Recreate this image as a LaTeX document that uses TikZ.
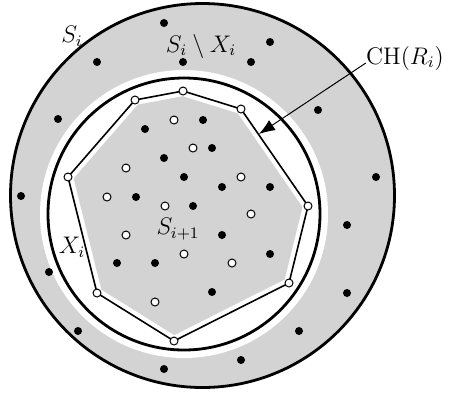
\documentclass[tikz,border=0pt]{standalone}
\usepackage{amsmath,amssymb}
\usetikzlibrary{arrows.meta}
\definecolor{ringgray}{RGB}{211,211,211}

\begin{document}
\begin{tikzpicture}[
  x=0.5pt,y=-0.5pt,
  font=\large,
  >={Latex[length=8pt,width=6pt]},
  blackpt/.style={fill=black},
  whitept/.style={draw=black,fill=white,line width=0.5pt},
  rim/.style={draw=black,line width=1.4pt},
  hullline/.style={draw=black,line width=0.8pt},
  gap/.style={draw=white,line width=#1}
]
\useasboundingbox (0,0) rectangle (449,392);
\coordinate (outerc) at (202.5,195.5);
\coordinate (innerc) at (184,214);
\coordinate (h1) at (135,100);
\coordinate (h2) at (183,91);
\coordinate (h3) at (241,109);
\coordinate (h4) at (308,206);
\coordinate (h5) at (289,283);
\coordinate (h6) at (174,341);
\coordinate (h7) at (97,293);
\coordinate (h8) at (68,177);

% S_i and the white band round X_i
\fill[ringgray] (outerc) circle[radius=96pt];
\draw[gap=8pt,fill=white] (innerc) circle[radius=68pt];
% S_{i+1}
\fill[ringgray] (h1) -- (h2) -- (h3) -- (h4) -- (h5) -- (h6) -- (h7) -- (h8) -- cycle;
\draw[gap=5pt] (h1) -- (h2) -- (h3) -- (h4) -- (h5) -- (h6) -- (h7) -- (h8) -- cycle;

\draw[rim] (outerc) circle[radius=96pt];
\draw[rim] (innerc) circle[radius=68pt];
\draw[hullline] (h1) -- (h2) -- (h3) -- (h4) -- (h5) -- (h6) -- (h7) -- (h8) -- cycle;

% points
\foreach \p in {(164,23),(97,62),(183,62),(270,42),(251,62),(318,110),
  (58,119),(376,177),(21,196),(347,225),(49,272),(347,293),(78,331),
  (299,331),(241,360),(164,369),
  (203,120),(145,129),(212,148),(164,158),(184,177),(136,197),(193,206),
  (222,187),(270,187),(222,235),(117,263),(155,263),(270,254),(212,292)}
  \fill[blackpt] \p circle[radius=2pt];
\foreach \p in {(174,120),(193,148),(126,168),(107,197),(165,206),(241,177),
  (251,214),(126,235),(184,254),(232,263),(155,302)}
  \draw[whitept] \p circle[radius=2pt];
\foreach \p in {h1,h2,h3,h4,h5,h6,h7,h8}
  \draw[whitept] (\p) circle[radius=2pt];

% labels
\node (si) at (72,36) {$S_i$};
\node (sdiff) at (201,46) {$S_i\setminus X_i$};
\node (snext) at (178,229) {$S_{i+1}$};
\node (xi) at (72,247) {$X_i$};
\node[inner sep=0pt] (chlabel) at (405,58) {$\mathrm{CH}(R_i)$};
\coordinate (hulltip) at (259,134);
\draw[->,line width=0.5pt] ([yshift=-2.5pt]chlabel.west) -- (hulltip);
\end{tikzpicture}
\end{document}
